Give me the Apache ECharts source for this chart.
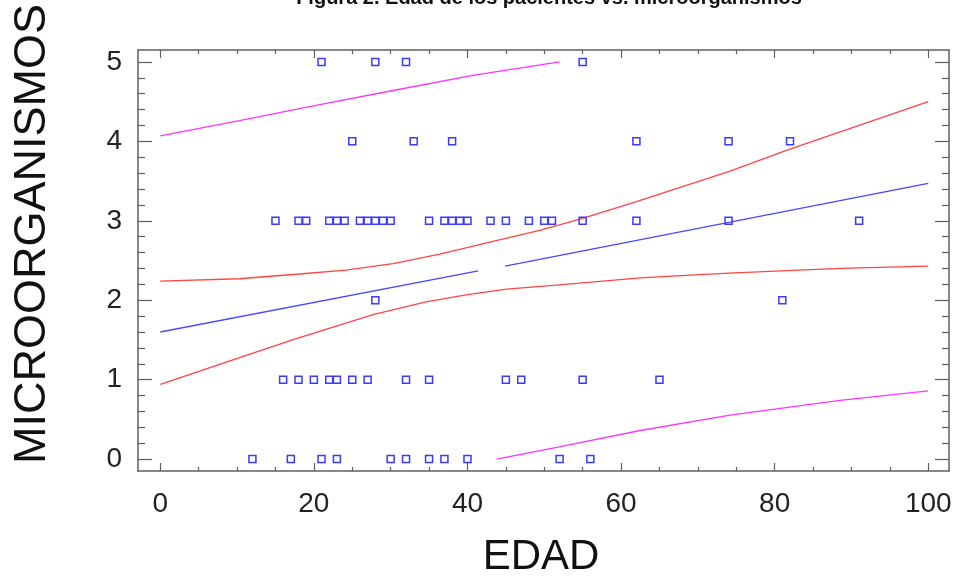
<!DOCTYPE html>
<html>
<head>
<meta charset="utf-8">
<script src="https://cdn.jsdelivr.net/npm/echarts@6/dist/echarts.min.js"></script>
<style>
html,body{margin:0;padding:0;background:#fff;}
#chart{width:958px;height:580px;}
</style>
</head>
<body>
<div id="chart"></div>
<script>
// ---- data ----
var edad = [21, 28, 32, 55,
            25, 33, 38, 62, 74, 82,
            15, 18, 19, 22, 23, 24, 26, 27, 28, 29, 30, 35, 37, 38, 39, 40, 43, 45, 48, 50, 51, 55, 62, 74, 91,
            28, 81,
            16, 18, 20, 22, 23, 25, 27, 32, 35, 45, 47, 55, 65,
            12, 17, 21, 23, 30, 32, 35, 37, 40, 52, 56];
var microorganismos = [5, 5, 5, 5,
            4, 4, 4, 4, 4, 4,
            3, 3, 3, 3, 3, 3, 3, 3, 3, 3, 3, 3, 3, 3, 3, 3, 3, 3, 3, 3, 3, 3, 3, 3, 3,
            2, 2,
            1, 1, 1, 1, 1, 1, 1, 1, 1, 1, 1, 1, 1,
            0, 0, 0, 0, 0, 0, 0, 0, 0, 0, 0];

var ajusteTramo1 = [[0, 1.60], [41.4, 2.37]];
var ajusteTramo2 = [[44.9, 2.43], [100, 3.47]];
var confSuperior = [[0, 2.24], [10.3, 2.27], [18.1, 2.33], [24.2, 2.38], [30.3, 2.46], [36.4, 2.58], [42.9, 2.73], [49.4, 2.88], [55, 3.03], [62, 3.24], [74, 3.62], [81.9, 3.90], [100, 4.50]];
var confInferior = [[0, 0.94], [8.6, 1.22], [17.2, 1.50], [27.7, 1.82], [34.6, 1.98], [40, 2.07], [45.1, 2.14], [51.6, 2.19], [62.5, 2.28], [74, 2.34], [88.5, 2.40], [100, 2.43]];
var predSuperior = [[0, 4.07], [10.3, 4.26], [20.1, 4.45], [30.3, 4.64], [40.7, 4.83], [52, 5.00]];
var predInferior = [[43.8, 0.00], [51.8, 0.15], [62.5, 0.36], [74, 0.55], [88.5, 0.74], [100, 0.86]];

var xMajorTicks = [0, 20, 40, 60, 80, 100];
var xMinorTicks = [5, 10, 15, 25, 30, 35, 45, 50, 55, 65, 70, 75, 85, 90, 95];
var yMajorTicks = [0, 1, 2, 3, 4, 5];
var yMinorTicks = [0.2, 0.4, 0.6, 0.8, 1.2, 1.4, 1.6, 1.8, 2.2, 2.4, 2.6, 2.8, 3.2, 3.4, 3.6, 3.8, 4.2, 4.4, 4.6, 4.8];

var titulo = 'Figura 2. Edad de los pacientes vs. microorganismos';
var nombreX = 'EDAD';
var nombreY = 'MICROORGANISMOS';

// ---- chart ----
var FONT = '"Liberation Sans", Arial, sans-serif';
var frameColor = '#606060';
var xMin = -2.9, xMax = 102.7, yMin = -0.15, yMax = 5.15;

function mkX(pos, ticks, len, showLine, labels) {
  return {
    type: 'value', position: pos, min: xMin, max: xMax,
    splitLine: {show: false},
    axisLine: {show: showLine, onZero: false, lineStyle: {color: frameColor, width: 1.5}},
    axisTick: {show: true, inside: true, length: len, customValues: ticks, lineStyle: {color: frameColor, width: 1.2}},
    axisLabel: labels ? {show: true, customValues: ticks, margin: 19, fontFamily: FONT, fontSize: 28, color: '#222'} : {show: false}
  };
}
function mkY(pos, ticks, len, showLine, labels) {
  return {
    type: 'value', position: pos, min: yMin, max: yMax,
    splitLine: {show: false},
    axisLine: {show: showLine, onZero: false, lineStyle: {color: frameColor, width: 1.5}},
    axisTick: {show: true, inside: true, length: len, customValues: ticks, lineStyle: {color: frameColor, width: 1.2}},
    axisLabel: labels ? {show: true, customValues: ticks, margin: 16, fontFamily: FONT, fontSize: 28, color: '#222'} : {show: false}
  };
}

var puntos = edad.map(function (e, i) { return [e, microorganismos[i]]; });

function lineSeries(data, color) {
  return {type: 'line', data: data, xAxisIndex: 0, yAxisIndex: 0, showSymbol: false, symbol: 'none',
          smooth: false, lineStyle: {color: color, width: 1.3}, silent: true, z: 2};
}

var chart = echarts.init(document.getElementById('chart'), null, {renderer: 'canvas'});
chart.setOption({
  animation: false,
  backgroundColor: '#fff',
  grid: {left: 138, right: 9, top: 50, bottom: 109, containLabel: false},
  xAxis: [
    mkX('bottom', xMajorTicks, 8, true, true),
    mkX('bottom', xMinorTicks, 4, false, false),
    mkX('top', xMajorTicks, 8, true, false),
    mkX('top', xMinorTicks, 4, false, false)
  ],
  yAxis: [
    mkY('left', yMajorTicks, 14, true, true),
    mkY('left', yMinorTicks, 7, false, false),
    mkY('right', yMajorTicks, 14, true, false),
    mkY('right', yMinorTicks, 7, false, false)
  ],
  series: [
    lineSeries(predSuperior, '#ff33ff'),
    lineSeries(predInferior, '#ff33ff'),
    lineSeries(confSuperior, '#ff4444'),
    lineSeries(confInferior, '#ff4444'),
    lineSeries(ajusteTramo1, '#4848ff'),
    lineSeries(ajusteTramo2, '#4848ff'),
    {
      type: 'scatter', data: puntos, xAxisIndex: 0, yAxisIndex: 0,
      symbol: 'rect', symbolSize: 7,
      itemStyle: {color: 'rgba(0,0,0,0)', borderColor: '#3a3aff', borderWidth: 1.5, opacity: 1},
      z: 3
    }
  ],
  graphic: [
    {type: 'text', x: 549, y: -2, style: {text: titulo, font: 'bold 20px ' + FONT, fill: '#111', align: 'center', verticalAlign: 'middle'}},
    {type: 'text', x: 541, y: 557, style: {text: nombreX, font: '42px ' + FONT, fill: '#111', align: 'center', verticalAlign: 'middle'}},
    {type: 'text', x: 33, y: 234, rotation: Math.PI / 2, style: {text: nombreY, font: '45px ' + FONT, fill: '#111', align: 'center', verticalAlign: 'middle'}}
  ]
});
</script>
</body>
</html>
